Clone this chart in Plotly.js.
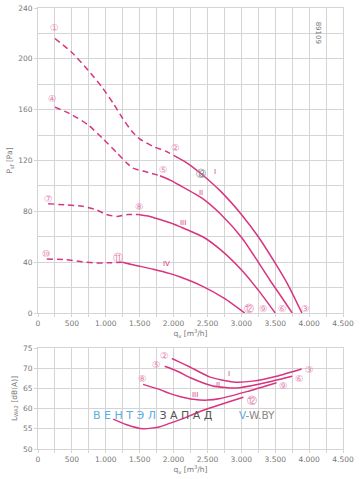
<!DOCTYPE html>
<html><head><meta charset="utf-8">
<script src="https://cdn.plot.ly/plotly-3.0.1.min.js"></script>
<style>html,body{margin:0;padding:0;background:#fff}#c{width:360px;height:479px}</style>
</head><body><div id="c"></div>
<script>
// Pressure curves (q in m3/h, P in Pa)
const q1d=[250,500,740,940,1110,1250,1385,1500,1700,1900,2000];
const p1d=[216,205,191,178,165,153,143,137,131,127,124];
const qI=[2000,2200,2420,2700,3010,3250,3525,3700,3894];
const pI=[124,118,109,95.5,77,60,37,21,0];
const q4d=[250,500,740,960,1165,1310,1400,1600,1800];
const p4d=[162,156,148,137,126,118,114,111,108];
const qII=[1800,1950,2090,2430,2700,3010,3250,3420,3600,3750];
const pII=[108,104.5,100.5,90,77.5,59,40,26,12,0];
const q7d=[150,420,660,870,1010,1160,1330,1480];
const p7d=[86,85,84,81,77.5,76,77.5,77.5];
const qIII=[1480,1650,1800,1950,2090,2430,2700,3010,3250,3500];
const pIII=[77.5,76,73.5,71,68,60,49.5,33.5,18,0];
const q10d=[130,420,620,810,1060,1250];
const p10d=[42.5,42,40.5,39.5,39.5,40];
const qIV=[1250,1400,1700,1950,2090,2430,2750,3050];
const pIV=[40,38,34.5,31,28.5,21,11.5,0];
// Sound power curves (dB(A))
const qLI=[1975,2090,2240,2540,2880,3170,3520,3890];
const LI=[72.4,71.5,70.3,67.8,66.6,66.8,68,69.8];
const qLII=[1870,1950,2090,2240,2580,2930,3275,3750];
const LII=[70.5,70.0,69.0,67.7,65.6,65.1,66.1,68];
const qLIII=[1550,1800,1950,2090,2290,2500,2690,3080,3520];
const LIII=[66.0,64.7,63.7,63.0,62.3,62.1,62.5,64.2,66.4];
const qLIV=[1110,1310,1550,1800,1950,2090,2440,3030];
const LIV=[57.4,56,55,55.5,56.4,57.2,59.6,62.8];
// point markers
const ptTop=[['①',250,225],['②',2030,130],['③',3950,3.5],['④',220,169],['⑤',1850,113],['⑥',3600,3.5],['⑦',160,90],['⑧',1500,83.5],['⑨',3320,3.5],['⑩',130,47],['⑪',1180,44],['⑫',3110,3.5]];
const ptOp=['⑬',2400,110];
const romTop=[['I',2610,111],['II',2404,94.5],['III',2140,71],['IV',1900,38.6]];
const ptBot=[['②',1873,73.1],['③',4012,69.8],['⑤',1750,70.8],['⑥',3854,67.5],['⑧',1544,67.5],['⑨',3618,65.7],['⑫',3152,61.9]];
const romBot=[['I',2822,68.5],['II',2650,65.8],['III',2316,63.4]];

const MAG='#d8347f', PINK='#e57fb0';
function ln(x,y,dash,xa,ya){return {x:x,y:y,xaxis:xa,yaxis:ya,mode:'lines',type:'scatter',hoverinfo:'skip',
  line:{color:MAG,width:1.5,dash:dash?'6px,4px':'solid',shape:'spline',smoothing:0.6}};}
const data=[
 ln(q1d,p1d,true,'x','y'),ln(qI,pI,false,'x','y'),
 ln(q4d,p4d,true,'x','y'),ln(qII,pII,false,'x','y'),
 ln(q7d,p7d,true,'x','y'),ln(qIII,pIII,false,'x','y'),
 ln(q10d,p10d,true,'x','y'),ln(qIV,pIV,false,'x','y'),
 ln(qLI,LI,false,'x2','y2'),ln(qLII,LII,false,'x2','y2'),
 ln(qLIII,LIII,false,'x2','y2'),ln(qLIV,LIV,false,'x2','y2')
];
const ann=[];
function addA(arr,xr,yr,col,sz){arr.forEach(a=>ann.push({text:a[0],x:a[1],y:a[2],xref:xr,yref:yr,showarrow:false,font:{color:col,size:sz,family:'DejaVu Sans'}}));}
addA(ptTop,'x','y',PINK,9.5);
addA([ptOp],'x','y','#888',9.5);
addA(romTop,'x','y',MAG,7);
addA(ptBot,'x2','y2',PINK,9.5);
addA(romBot,'x2','y2',MAG,7);
ann.push({text:'<span style="color:#5aaee0">В Е Н Т Э Л</span> <span style="color:#555">З А П А Д</span>',x:1690,y:58.4,xref:'x2',yref:'y2',showarrow:false,font:{size:11,family:'DejaVu Sans'}});
ann.push({text:'<span style="color:#5aaee0">V</span><span style="color:#888">-W.BY</span>',x:3230,y:58.4,xref:'x2',yref:'y2',showarrow:false,font:{size:10.5,family:'DejaVu Sans'}});
ann.push({text:'89109',x:338/360,y:1-(20-8)/441,xref:'paper',yref:'paper',showarrow:false,textangle:90,font:{size:7,color:'#777',family:'DejaVu Sans'}});

const G='#d4d4d4', TF={size:7.5,color:'#777',family:'DejaVu Sans'};
function xa(dom,anchor){return {domain:[0,1],anchor:anchor,range:[0,4500],dtick:500,tick0:0,tickformat:',d',showgrid:true,gridcolor:G,gridwidth:1,
 ticks:'outside',ticklen:3,tickcolor:G,showline:true,linecolor:G,mirror:true,zeroline:false,tickfont:TF,
 minor:{dtick:250,showgrid:true,gridcolor:G,ticks:'outside',ticklen:3,tickcolor:G},
 title:{text:'q<sub>v</sub> [m<sup>3</sup>/h]',font:{size:7.5,color:'#777',family:'DejaVu Sans'},standoff:1}};}
const layout={width:360,height:479,margin:{l:38,r:17,t:8,b:30},showlegend:false,
 paper_bgcolor:'#fff',plot_bgcolor:'#fff',separators:',.',
 xaxis:xa([0,1],'y'),xaxis2:xa([0,1],'y2'),
 yaxis:{domain:[136/441,1],anchor:'x',range:[0,240],dtick:40,showgrid:true,gridcolor:G,zeroline:false,showline:true,linecolor:G,mirror:true,
  ticks:'outside',ticklen:3,tickcolor:G,tickfont:TF,minor:{dtick:20,showgrid:true,gridcolor:G},
  title:{text:'P<sub>sf</sub> [Pa]',font:{size:7.5,color:'#777',family:'DejaVu Sans'},standoff:4}},
 yaxis2:{domain:[0,101/441],anchor:'x2',range:[50,75],dtick:5,showgrid:true,gridcolor:G,zeroline:false,showline:true,linecolor:G,mirror:true,
  ticks:'outside',ticklen:3,tickcolor:G,tickfont:TF,
  title:{text:'L<sub>WA2</sub> [dB(A)]',font:{size:7.5,color:'#777',family:'DejaVu Sans'},standoff:4}},
 annotations:ann};
Plotly.newPlot('c',data,layout,{staticPlot:true,displayModeBar:false});
</script></body></html>
